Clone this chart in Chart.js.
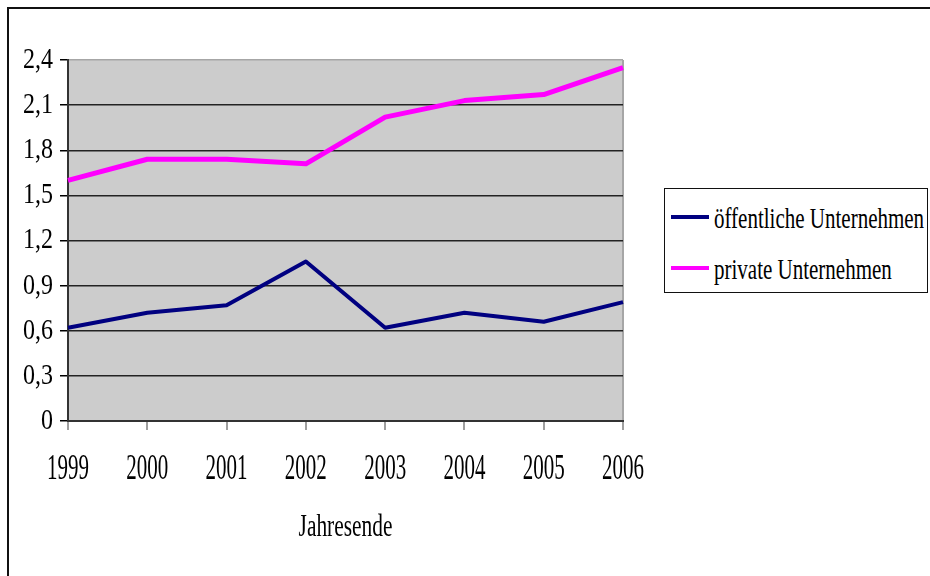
<!DOCTYPE html>
<html>
<head>
<meta charset="utf-8">
<title>Jahresende</title>
<script src="https://cdn.jsdelivr.net/npm/chart.js@4.4.1/dist/chart.umd.min.js"></script>
<style>
  html, body { margin: 0; padding: 0; background: #fff; overflow: hidden; }
  #wrap { position: relative; width: 930px; height: 576px; overflow: hidden; }
  #frame { position: absolute; left: 7px; top: 7px; width: 1000px; height: 1000px;
           border-left: 2px solid #111; border-top: 2px solid #111; box-sizing: border-box; }
  #chart { position: absolute; left: 0; top: 0; }
  #legend { position: absolute; left: 664px; top: 188px; width: 264px; height: 105px;
            border: 1px solid #111; box-sizing: border-box; background: #fff; }
  .swatch { position: absolute; left: 6px; width: 38px; height: 4px; }
  .lbl { position: absolute; left: 49px; font: 30px/30px "Liberation Serif", serif; color: #000;
         white-space: nowrap; transform: scaleX(0.7); transform-origin: 0 0; }
</style>
</head>
<body>
<div id="wrap">
  <div id="frame"></div>
  <canvas id="chart" width="930" height="576"></canvas>
  <div id="legend"></div>
</div>
<script>
// Categories (year end) and series values
const years = ['1999', '2000', '2001', '2002', '2003', '2004', '2005', '2006'];
const oeffentlicheUnternehmen = [0.62, 0.72, 0.77, 1.06, 0.62, 0.72, 0.66, 0.79];
const privateUnternehmen = [1.60, 1.74, 1.74, 1.71, 2.02, 2.13, 2.17, 2.35];

// Value axis ticks and their German labels
const yTicks = [0, 0.3, 0.6, 0.9, 1.2, 1.5, 1.8, 2.1, 2.4];
const yTickLabels = ['0', '0,3', '0,6', '0,9', '1,2', '1,5', '1,8', '2,1', '2,4'];

// Series names and colours
const seriesNames = ['öffentliche Unternehmen', 'private Unternehmen'];
const seriesColors = ['#000080', '#ff00ff'];
const seriesWidths = [4, 5];

// Narrow serif lettering: condense canvas text horizontally, per font size
const condense = { 30: 0.8, 35: 0.6, 31: 0.69 };
function factorFor(font) {
  const m = /(\d+(?:\.\d+)?)px/.exec(font);
  return (m && condense[+m[1]]) || 1;
}
const canvas = document.getElementById('chart');
const ctx = canvas.getContext('2d');
const nativeMeasure = ctx.measureText.bind(ctx);
const nativeFill = ctx.fillText.bind(ctx);
ctx.measureText = function (text) {
  const m = nativeMeasure(text);
  const f = factorFor(ctx.font);
  return {
    width: m.width * f,
    actualBoundingBoxAscent: m.actualBoundingBoxAscent,
    actualBoundingBoxDescent: m.actualBoundingBoxDescent,
    actualBoundingBoxLeft: m.actualBoundingBoxLeft * f,
    actualBoundingBoxRight: m.actualBoundingBoxRight * f
  };
};
ctx.fillText = function (text, x, y, maxWidth) {
  const w = nativeMeasure(text).width * factorFor(ctx.font);
  nativeFill(text, x, y, maxWidth === undefined ? w : Math.min(w, maxWidth));
};

// Grey plot area
const plotBackground = {
  id: 'plotBackground',
  beforeDraw(chart) {
    const { ctx: c, chartArea: a } = chart;
    c.save();
    c.fillStyle = '#cccccc';
    c.fillRect(a.left, a.top, a.right - a.left, a.bottom - a.top);
    c.restore();
  }
};

const seriesData = [oeffentlicheUnternehmen, privateUnternehmen];

new Chart(ctx, {
  type: 'line',
  data: {
    labels: years,
    datasets: seriesNames.map((name, i) => ({
      label: name,
      data: seriesData[i],
      borderColor: seriesColors[i],
      backgroundColor: seriesColors[i],
      borderWidth: seriesWidths[i],
      borderJoinStyle: 'round',
      pointRadius: 0,
      tension: 0,
      fill: false
    }))
  },
  options: {
    responsive: false,
    animation: false,
    events: [],
    layout: { padding: { top: 60, right: 307, bottom: 0, left: 0 } },
    plugins: { legend: { display: false }, tooltip: { enabled: false } },
    scales: {
      x: {
        type: 'category',
        offset: false,
        grid: {
          drawOnChartArea: true,
          color: c => (c.index === years.length - 1 ? '#a6a6a6' : 'rgba(0,0,0,0)'),
          lineWidth: 2,
          tickColor: '#7f7f7f',
          tickWidth: 1.5,
          tickLength: 9
        },
        border: { display: true, color: '#333', width: 2 },
        ticks: {
          font: { family: 'Liberation Serif', size: 35 },
          color: '#000',
          padding: 19,
          maxRotation: 0,
          autoSkip: false
        },
        title: {
          display: true,
          text: 'Jahresende',
          font: { family: 'Liberation Serif', size: 31 },
          color: '#000',
          padding: { top: 0, bottom: 30 }
        },
        afterFit(s) { s.height = 155; }
      },
      y: {
        min: 0,
        max: 2.4,
        afterBuildTicks(s) { s.ticks = yTicks.map(v => ({ value: v })); },
        grid: {
          color: c => (c.tick && c.tick.value === 2.4 ? '#a6a6a6' : '#222'),
          lineWidth: 1.5,
          tickColor: '#000',
          tickWidth: 1.5,
          tickLength: 8
        },
        border: { display: true, color: '#333', width: 2 },
        ticks: {
          font: { family: 'Liberation Serif', size: 30 },
          color: '#000',
          padding: 7,
          callback: (v, i) => yTickLabels[i]
        },
        afterFit(s) { s.width = 68; }
      }
    }
  },
  plugins: [plotBackground]
});

// Legend box built from the series names and colours
const legend = document.getElementById('legend');
const swatchTops = [26, 77];
const labelTops = [14, 65];
seriesNames.forEach((name, i) => {
  const sw = document.createElement('div');
  sw.className = 'swatch';
  sw.style.top = swatchTops[i] + 'px';
  sw.style.background = seriesColors[i];
  legend.appendChild(sw);
  const lb = document.createElement('span');
  lb.className = 'lbl';
  lb.style.top = labelTops[i] + 'px';
  lb.textContent = name;
  legend.appendChild(lb);
});
</script>
</body>
</html>
